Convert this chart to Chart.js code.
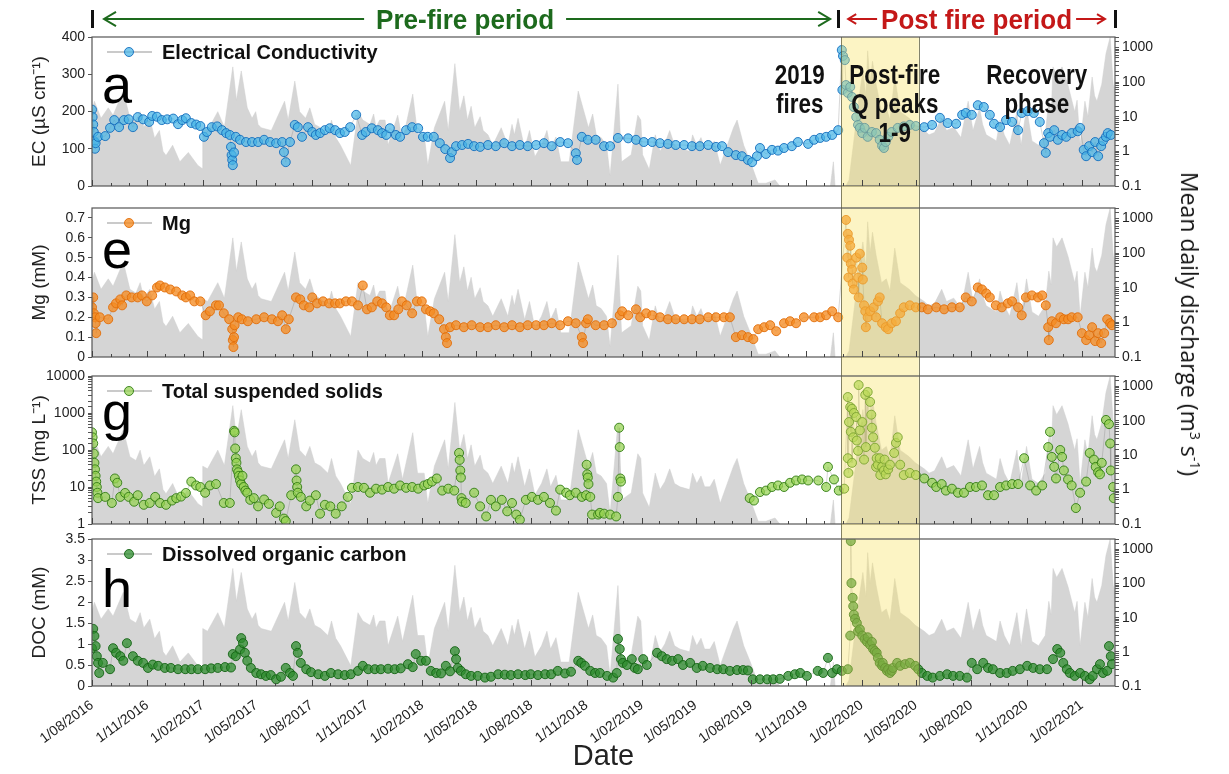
<!DOCTYPE html>
<html>
<head>
<meta charset="utf-8">
<script src="https://cdn.jsdelivr.net/npm/chart.js@4.4.1/dist/chart.umd.min.js"></script>
<style>
  body { margin: 0; background: #fff; width: 1229px; height: 774px; overflow: hidden; position: relative; font-family: 'Liberation Sans', Arial, sans-serif; }
  canvas { position: absolute; left: 0; }
  #qTitle { position: absolute; left: 1190px; top: 324px; transform: translate(-50%, -50%) rotate(90deg); white-space: nowrap;
            font-family: 'Open Sans', 'Noto Sans', sans-serif; font-size: 23px; color: #111; z-index: 5; }
  #qTitle sup { font-size: 14px; }
</style>
</head>
<body>
<canvas id="cA" width="1229" height="200" style="top:0px"></canvas>
<canvas id="cE" width="1229" height="185" style="top:186px"></canvas>
<canvas id="cG" width="1229" height="181" style="top:357px"></canvas>
<canvas id="cH" width="1229" height="250" style="top:524px"></canvas>
<div id="qTitle">Mean daily discharge (m<sup>3</sup> s<sup>-1</sup>)</div>
<script>
// x values are days since 1/08/2016
const tickLabels = ['1/08/2016','1/11/2016','1/02/2017','1/05/2017','1/08/2017','1/11/2017','1/02/2018','1/05/2018','1/08/2018','1/11/2018','1/02/2019','1/05/2019','1/08/2019','1/11/2019','1/02/2020','1/05/2020','1/08/2020','1/11/2020','1/02/2021'];
const lastDay = 1700;        // ~28/03/2021
const fireDay = 1240;        // end of pre-fire period
const bandStart = 1245, bandEnd = 1374;   // post-fire Q peaks window

// mean daily discharge (m3/s)
const discharge = [[0,15],[4,28],[15,9],[27,18],[35,11],[52,55],[63,9],[73,7],[80,14],[86,5],[96,9],[104,2.4],[112,4],[118,1],[123,0.76],[134,1.5],[146,0.5],[160,0.93],[176,0.39],[183,0.32],[184,4.8],[192,4],[209,14],[220,5],[234,275],[240,30],[248,210],[258,18],[266,9],[272,14],[276,6],[281,4.8],[298,4],[320,28],[326,8],[337,107],[345,14],[355,9],[362,18],[370,6],[380,4.8],[392,3],[398,8],[405,2.5],[413,1.5],[430,0.39],[442,14],[450,8],[462,6],[468,12],[472,5],[478,8],[487,8],[492,1.5],[508,11],[516,2],[533,45],[541,3],[552,3],[558,0.39],[569,4.8],[586,28],[592,4],[603,340],[611,14],[618,40],[624,8],[630,20],[636,4.8],[645,10],[650,4],[658,3],[666,1.5],[680,4.8],[691,1.5],[698,6],[702,3],[708,9],[719,1.2],[727,4],[736,0.7],[747,1.5],[756,4],[762,1.2],[771,2.6],[779,0.5],[793,0.5],[808,55],[825,4.8],[832,12],[838,3],[846,2.5],[855,1.5],[861,0.2],[874,87],[880,0.5],[896,0.8],[907,11],[912,8],[915,0.8],[926,0.3],[936,3],[944,1],[952,1.7],[960,4],[968,1.5],[977,1.2],[993,1],[998,3],[1005,1.5],[1012,2.5],[1018,1.2],[1027,1.2],[1034,2],[1044,0.4],[1066,4.8],[1072,8],[1083,1.5],[1094,0.5],[1107,0.12],[1120,0.12],[1135,0.15],[1145,0.09],[1160,0.05],[1225,0.05],[1232,0.5],[1236,0.05],[1250,0.08],[1258,0.15],[1266,2],[1274,30],[1281,210],[1286,40],[1289,800],[1293,100],[1297,400],[1303,87],[1312,14],[1320,18],[1326,8],[1334,140],[1343,14],[1358,9],[1368,6],[1383,4],[1391,3],[1400,3.5],[1412,9],[1420,4],[1432,5],[1444,2.5],[1456,28],[1464,4],[1475,18],[1480,6],[1486,3],[1503,2],[1509,8],[1516,3],[1525,1.5],[1537,14],[1544,1.5],[1553,18],[1562,2],[1573,1.5],[1584,3],[1590,30],[1594,12],[1597,275],[1603,150],[1612,275],[1622,80],[1633,14],[1637,30],[1642,1.5],[1650,28],[1655,10],[1662,140],[1666,40],[1670,28],[1678,87],[1685,660],[1692,2000],[1697,87],[1700,60]];

// electrical conductivity (uS/cm)
const ecSamples = [[0,205],[1,185],[2,165],[3,145],[4,120],[5,100],[6,115],[10,132],[22,134],[30,156],[37,177],[45,158],[53,177],[61,179],[68,158],[76,185],[85,179],[95,172],[100,188],[108,186],[116,177],[125,179],[135,181],[143,166],[150,177],[156,182],[165,169],[173,165],[180,161],[186,132],[191,145],[199,158],[208,160],[216,150],[223,142],[229,137],[231,105],[232,83],[233,70],[234,56],[236,90],[239,132],[246,124],[256,118],[266,118],[276,118],[286,124],[296,118],[306,115],[316,118],[319,91],[322,64],[329,118],[337,164],[342,158],[349,132],[359,158],[366,145],[372,137],[379,142],[387,150],[395,155],[404,150],[412,142],[420,145],[429,158],[439,191],[449,137],[455,145],[465,155],[475,150],[482,142],[489,137],[495,155],[505,137],[512,132],[522,150],[532,158],[542,155],[550,132],[558,132],[568,132],[578,115],[587,99],[595,75],[598,91],[605,107],[615,110],[625,113],[635,107],[645,105],[658,110],[671,107],[685,115],[698,107],[711,110],[724,107],[738,110],[751,115],[764,107],[778,118],[791,115],[804,88],[806,70],[814,132],[824,124],[837,124],[851,107],[861,107],[874,129],[891,128],[904,124],[917,118],[931,118],[944,115],[957,113],[970,110],[984,110],[997,107],[1010,107],[1024,110],[1037,105],[1047,107],[1057,91],[1070,83],[1080,80],[1090,70],[1097,64],[1105,80],[1110,102],[1120,86],[1130,97],[1140,95],[1150,102],[1163,107],[1173,118],[1190,113],[1200,124],[1210,129],[1220,132],[1230,137],[1240,150],[1246,365],[1247,258],[1248,349],[1251,338],[1253,271],[1256,250],[1260,266],[1263,239],[1266,212],[1270,185],[1273,164],[1276,156],[1280,142],[1284,156],[1289,132],[1296,145],[1303,142],[1309,124],[1313,108],[1316,102],[1319,118],[1323,132],[1329,145],[1339,156],[1349,160],[1359,164],[1369,161],[1383,158],[1396,164],[1409,183],[1422,169],[1436,167],[1446,191],[1452,196],[1462,191],[1472,217],[1482,212],[1492,191],[1499,167],[1509,158],[1519,177],[1529,172],[1539,150],[1545,196],[1555,201],[1565,196],[1575,172],[1582,115],[1585,89],[1589,142],[1592,132],[1599,150],[1605,124],[1612,137],[1619,132],[1628,142],[1638,147],[1642,156],[1648,97],[1652,80],[1657,107],[1662,91],[1667,118],[1672,80],[1677,107],[1680,121],[1685,132],[1688,142],[1693,137]];

// Mg (mM)
const mgSamples = [[0,0.25],[2,0.30],[3,0.22],[5,0.20],[6,0.17],[7,0.12],[13,0.20],[27,0.19],[35,0.25],[40,0.27],[47,0.29],[50,0.26],[57,0.31],[66,0.30],[76,0.30],[83,0.31],[91,0.28],[100,0.31],[108,0.35],[113,0.36],[121,0.35],[130,0.34],[140,0.33],[150,0.31],[156,0.30],[163,0.31],[170,0.28],[180,0.28],[189,0.21],[196,0.23],[206,0.26],[211,0.26],[219,0.22],[228,0.19],[233,0.14],[234,0.085],[235,0.05],[236,0.10],[237,0.16],[243,0.20],[249,0.19],[259,0.18],[273,0.19],[286,0.20],[299,0.19],[309,0.18],[316,0.21],[322,0.14],[327,0.19],[339,0.30],[346,0.29],[352,0.26],[361,0.25],[366,0.30],[374,0.27],[384,0.28],[394,0.27],[404,0.27],[412,0.27],[422,0.28],[432,0.28],[442,0.26],[450,0.36],[457,0.24],[465,0.25],[474,0.28],[482,0.27],[489,0.25],[495,0.21],[502,0.21],[509,0.24],[515,0.28],[523,0.26],[532,0.22],[540,0.28],[548,0.28],[555,0.24],[562,0.23],[568,0.22],[577,0.19],[585,0.14],[588,0.10],[590,0.07],[595,0.15],[605,0.16],[618,0.15],[631,0.16],[645,0.15],[658,0.15],[671,0.16],[685,0.15],[698,0.16],[711,0.15],[724,0.16],[738,0.16],[751,0.16],[764,0.17],[778,0.16],[791,0.18],[804,0.17],[814,0.10],[816,0.07],[821,0.17],[824,0.19],[837,0.16],[851,0.16],[864,0.17],[877,0.21],[881,0.23],[891,0.21],[904,0.24],[911,0.20],[921,0.22],[931,0.21],[944,0.20],[957,0.19],[970,0.19],[984,0.19],[997,0.19],[1010,0.19],[1024,0.20],[1037,0.20],[1050,0.20],[1060,0.20],[1070,0.10],[1080,0.11],[1090,0.10],[1099,0.09],[1107,0.14],[1117,0.15],[1127,0.16],[1137,0.13],[1150,0.17],[1160,0.18],[1170,0.17],[1183,0.20],[1200,0.20],[1210,0.20],[1220,0.21],[1230,0.23],[1240,0.20],[1253,0.69],[1255,0.50],[1256,0.62],[1257,0.40],[1258,0.59],[1260,0.56],[1261,0.47],[1263,0.44],[1264,0.37],[1266,0.34],[1270,0.50],[1273,0.40],[1274,0.30],[1276,0.52],[1280,0.45],[1281,0.39],[1283,0.26],[1285,0.23],[1286,0.15],[1289,0.20],[1293,0.23],[1299,0.25],[1303,0.20],[1306,0.28],[1309,0.30],[1313,0.17],[1319,0.15],[1323,0.14],[1329,0.17],[1336,0.18],[1343,0.22],[1349,0.25],[1359,0.26],[1369,0.25],[1379,0.25],[1389,0.24],[1403,0.25],[1416,0.24],[1429,0.25],[1442,0.25],[1452,0.30],[1462,0.28],[1472,0.35],[1479,0.34],[1486,0.32],[1492,0.30],[1502,0.26],[1512,0.25],[1522,0.27],[1529,0.28],[1539,0.25],[1545,0.21],[1552,0.30],[1562,0.31],[1572,0.30],[1579,0.31],[1585,0.26],[1589,0.15],[1590,0.085],[1595,0.18],[1602,0.17],[1609,0.20],[1615,0.19],[1622,0.19],[1628,0.20],[1638,0.20],[1645,0.12],[1652,0.085],[1657,0.11],[1662,0.15],[1667,0.08],[1672,0.12],[1677,0.07],[1682,0.12],[1687,0.19],[1692,0.17],[1695,0.16]];

// total suspended solids (mg/L)
const tssSamples = [[0,300],[1,220],[2,150],[3,80],[4,45],[5,30],[6,20],[7,14],[8,10],[9,7],[10,5],[22,5.4],[33,3.7],[38,17],[42,13],[47,5.4],[55,6.9],[61,5.4],[70,4],[76,6],[86,3.3],[96,3.7],[105,5.4],[113,3.7],[123,3.3],[133,4.3],[140,5],[148,5.5],[156,6.9],[165,14],[173,11],[180,10],[188,7],[196,11],[206,12],[219,3.7],[229,3.7],[236,330],[237,300],[238,110],[239,60],[240,45],[241,30],[243,25],[244,20],[246,15],[248,12],[250,20],[252,10],[255,8],[258,7],[263,4.5],[269,5],[276,3],[286,4.6],[294,3.5],[306,2],[312,3],[319,1.4],[322,1.2],[331,6],[339,30],[340,15],[341,10],[342,7],[347,5.4],[356,3],[362,4.3],[372,6],[379,1.9],[387,3.3],[396,3],[405,1.9],[415,3],[425,5.4],[432,9.5],[442,10],[452,9.5],[462,7],[472,9],[482,8.5],[492,10],[502,9],[512,11],[522,9.5],[532,10],[542,9],[552,11],[558,12],[565,14],[573,17],[582,8],[592,9],[602,8],[610,83],[611,54],[612,28],[613,18],[614,5],[615,4],[621,3.7],[635,7],[645,3],[655,1.6],[663,4.5],[671,3],[681,4.5],[690,2.2],[698,3.7],[705,1.8],[711,1.3],[721,4.5],[731,5.4],[741,4.5],[751,5.4],[761,3.7],[771,2.3],[778,8.5],[788,7],[794,6],[804,7],[814,5.4],[821,6],[822,40],[823,22],[824,18],[825,12],[828,5.4],[831,1.8],[841,1.8],[844,2],[851,1.9],[861,1.8],[871,1.6],[874,5.4],[876,400],[877,120],[878,17],[879,14],[1093,5],[1100,4.3],[1110,7.3],[1120,8],[1130,10],[1140,11],[1150,10],[1160,13],[1170,15],[1180,16],[1190,15],[1207,15],[1220,10],[1223,35],[1233,16],[1241,8],[1250,9],[1256,2700],[1256,60],[1257,24],[1258,570],[1260,1450],[1261,310],[1263,1300],[1263,45],[1265,220],[1266,1000],[1270,780],[1271,180],[1273,95],[1274,5700],[1276,340],[1280,570],[1283,55],[1285,3100],[1286,120],[1289,3700],[1293,2000],[1295,900],[1296,400],[1298,220],[1301,115],[1303,35],[1304,60],[1306,40],[1309,60],[1310,21],[1313,35],[1316,28],[1317,55],[1319,22],[1323,30],[1326,40],[1333,83],[1336,155],[1339,220],[1343,40],[1349,21],[1359,24],[1369,21],[1383,17],[1396,13],[1403,10],[1412,12],[1419,8],[1429,9],[1439,7],[1449,7],[1459,10],[1469,10],[1479,11],[1489,6],[1499,6],[1509,10],[1519,11],[1529,12],[1539,12],[1549,60],[1559,11],[1569,8],[1579,11],[1589,120],[1592,310],[1595,65],[1599,35],[1602,17],[1609,100],[1612,65],[1615,28],[1622,16],[1628,11],[1635,2.7],[1642,7],[1652,14],[1658,83],[1665,55],[1668,35],[1672,25],[1675,22],[1678,45],[1685,650],[1690,500],[1692,150],[1693,28],[1697,10],[1698,5]];

// dissolved organic carbon (mM)
const docSamples = [[0,0.9],[2,1.36],[4,1.19],[6,0.95],[8,0.71],[10,0.55],[12,0.31],[18,0.55],[30,0.40],[35,0.90],[40,0.79],[47,0.71],[52,0.60],[58,1.02],[68,0.71],[76,0.60],[85,0.55],[93,0.43],[101,0.51],[110,0.48],[121,0.43],[131,0.43],[143,0.40],[155,0.40],[165,0.40],[176,0.40],[188,0.40],[198,0.42],[209,0.43],[221,0.45],[231,0.44],[234,0.76],[239,0.71],[246,0.87],[248,1.14],[251,1.02],[254,0.79],[258,0.60],[264,0.43],[273,0.31],[281,0.28],[289,0.24],[297,0.26],[306,0.16],[314,0.22],[322,0.43],[329,0.31],[334,0.24],[339,0.95],[342,0.79],[347,0.55],[356,0.40],[364,0.33],[376,0.28],[387,0.24],[397,0.31],[409,0.28],[420,0.26],[430,0.28],[442,0.36],[450,0.48],[459,0.40],[470,0.40],[480,0.40],[492,0.41],[503,0.40],[513,0.42],[525,0.52],[533,0.45],[538,0.76],[547,0.60],[555,0.60],[563,0.36],[572,0.31],[580,0.30],[588,0.48],[595,0.35],[603,0.83],[605,0.64],[608,0.43],[613,0.36],[621,0.28],[630,0.24],[641,0.24],[653,0.20],[663,0.22],[675,0.28],[686,0.27],[696,0.26],[708,0.28],[720,0.26],[729,0.28],[741,0.26],[753,0.28],[763,0.28],[774,0.36],[786,0.30],[796,0.34],[808,0.60],[813,0.55],[819,0.48],[828,0.36],[836,0.31],[844,0.31],[856,0.24],[866,0.20],[872,0.31],[874,1.12],[877,0.88],[879,0.64],[882,0.55],[889,0.50],[897,0.64],[902,0.43],[907,0.40],[916,0.64],[922,0.50],[939,0.79],[947,0.71],[955,0.64],[964,0.60],[974,0.64],[982,0.50],[994,0.55],[1005,0.43],[1015,0.48],[1027,0.43],[1039,0.40],[1049,0.40],[1060,0.36],[1072,0.38],[1082,0.38],[1090,0.37],[1098,0.16],[1110,0.16],[1122,0.16],[1132,0.16],[1143,0.17],[1157,0.24],[1168,0.28],[1177,0.31],[1188,0.24],[1206,0.36],[1215,0.31],[1223,0.67],[1230,0.31],[1238,0.40],[1246,0.36],[1256,0.40],[1260,1.2],[1261,3.45],[1262,2.45],[1264,2.1],[1265,1.9],[1266,1.7],[1268,1.6],[1271,1.5],[1273,1.3],[1276,1.35],[1280,1.2],[1284,1.12],[1288,1.05],[1289,1.16],[1293,0.98],[1296,1.05],[1298,0.88],[1301,0.83],[1304,0.79],[1306,0.67],[1309,0.55],[1313,0.48],[1314,0.55],[1318,0.43],[1321,0.36],[1323,0.40],[1326,0.31],[1329,0.36],[1331,0.43],[1338,0.55],[1343,0.48],[1351,0.52],[1359,0.55],[1368,0.48],[1373,0.40],[1379,0.31],[1388,0.24],[1397,0.20],[1409,0.24],[1421,0.28],[1431,0.24],[1442,0.24],[1454,0.20],[1462,0.55],[1471,0.40],[1481,0.55],[1489,0.43],[1497,0.40],[1509,0.31],[1520,0.31],[1530,0.36],[1542,0.40],[1554,0.48],[1564,0.43],[1575,0.40],[1587,0.40],[1597,0.64],[1604,0.88],[1609,0.79],[1614,0.55],[1620,0.40],[1625,0.31],[1633,0.24],[1642,0.31],[1650,0.24],[1658,0.16],[1663,0.24],[1670,0.40],[1675,0.52],[1680,0.31],[1687,0.36],[1690,0.95],[1693,0.71],[1695,0.52]];

const day0 = Date.UTC(2016, 7, 1);
function labelToDay(s) {
  const [d, m, y] = s.split('/').map(Number);
  return Math.round((Date.UTC(y, m - 1, d) - day0) / 86400000);
}
const tickDays = tickLabels.map(labelToDay);
const monthDays = [];
for (let m = 0; ; m++) {
  const d = Math.round((Date.UTC(2016, 7 + m, 1) - day0) / 86400000);
  if (d > lastDay) break;
  monthDays.push(d);
}

const ink = '#222';
const frame = '#555';

const decor = {
  id: 'panelDecor',
  afterDatasetsDraw(chart, args, o) {
    const ctx = chart.ctx, a = chart.chartArea, xs = chart.scales.x;
    const x1 = xs.getPixelForValue(bandStart), x2 = xs.getPixelForValue(bandEnd);
    const yTop = o.bandFromTop ? 0 : a.top;
    ctx.save();
    ctx.fillStyle = 'rgba(247,226,100,0.38)';
    ctx.fillRect(x1, yTop, x2 - x1, a.bottom - yTop);
    ctx.strokeStyle = 'rgba(90,90,60,0.75)';
    ctx.lineWidth = 1;
    ctx.beginPath();
    ctx.moveTo(Math.round(x1) + 0.5, yTop); ctx.lineTo(Math.round(x1) + 0.5, a.bottom);
    ctx.moveTo(Math.round(x2) + 0.5, yTop); ctx.lineTo(Math.round(x2) + 0.5, a.bottom);
    ctx.stroke();
    ctx.restore();
  },
  afterDraw(chart, args, o) {
    const ctx = chart.ctx, a = chart.chartArea, xs = chart.scales.x;
    ctx.save();
    // frame
    ctx.strokeStyle = frame; ctx.lineWidth = 1.2;
    ctx.strokeRect(a.left, a.top, a.right - a.left, a.bottom - a.top);
    // inward month ticks
    ctx.lineWidth = 1; ctx.strokeStyle = '#444';
    ctx.beginPath();
    monthDays.forEach(d => {
      const x = Math.round(xs.getPixelForValue(d)) + 0.5;
      const len = tickDays.includes(d) ? 6 : 3;
      ctx.moveTo(x, a.bottom); ctx.lineTo(x, a.bottom - len);
    });
    ctx.stroke();
    // legend
    const ly = a.top + 15;
    ctx.strokeStyle = '#b8b8b8'; ctx.lineWidth = 1.5;
    ctx.beginPath(); ctx.moveTo(a.left + 15, ly); ctx.lineTo(a.left + 60, ly); ctx.stroke();
    const ds = chart.data.datasets[0];
    ctx.fillStyle = ds.pointBackgroundColor; ctx.strokeStyle = ds.pointBorderColor; ctx.lineWidth = 1;
    ctx.beginPath(); ctx.arc(a.left + 37, ly, 4.5, 0, Math.PI * 2); ctx.fill(); ctx.stroke();
    ctx.fillStyle = '#111'; ctx.font = 'bold 20px "Liberation Sans", Arial, sans-serif';
    ctx.textBaseline = 'middle'; ctx.textAlign = 'left';
    ctx.fillText(ds.label, a.left + 70, ly + 1);
    // panel letter
    ctx.font = '54px "Liberation Sans", Arial, sans-serif';
    ctx.textBaseline = 'alphabetic';
    ctx.fillStyle = '#000';
    ctx.fillText(o.letter, a.left + 10, a.top + o.letterBase);

    if (o.header) drawHeader(chart, ctx, a, xs);
    ctx.restore();
  }
};

function narrowText(ctx, text, x, y, scaleX) {
  ctx.save(); ctx.translate(x, y); ctx.scale(scaleX, 1); ctx.fillText(text, 0, 0); ctx.restore();
}

function arrow(ctx, from, to, y, color, head) {
  ctx.strokeStyle = color; ctx.lineWidth = 2;
  ctx.beginPath(); ctx.moveTo(from, y); ctx.lineTo(to, y); ctx.stroke();
  const dir = to > from ? 1 : -1;
  ctx.beginPath();
  ctx.moveTo(to - dir * head, y - head * 0.6); ctx.lineTo(to, y); ctx.lineTo(to - dir * head, y + head * 0.6);
  ctx.stroke();
}

function drawHeader(chart, ctx, a, xs) {
  const xStart = xs.getPixelForValue(0), xFire = xs.getPixelForValue(fireDay), xEnd = xs.getPixelForValue(lastDay);
  // period markers
  ctx.fillStyle = '#111';
  [xStart, xFire, xEnd].forEach(x => ctx.fillRect(Math.round(x) - 1, 10, 3, 18));
  ctx.textAlign = 'center'; ctx.textBaseline = 'alphabetic';
  ctx.font = 'bold 28px "Liberation Sans", Arial, sans-serif';
  // pre-fire
  const green = '#1d6a1d';
  ctx.fillStyle = green;
  const preMid = (xStart + xFire) / 2;
  const preW = ctx.measureText('Pre-fire period').width * 0.93;
  narrowText(ctx, 'Pre-fire period', preMid, 29, 0.93);
  arrow(ctx, preMid - preW / 2 - 12, xStart + 12, 19, green, 12);
  arrow(ctx, preMid + preW / 2 + 12, xFire - 8, 19, green, 12);
  // post fire
  const red = '#c41818';
  ctx.fillStyle = red;
  const postMid = (xFire + xEnd) / 2;
  const postW = ctx.measureText('Post fire period').width * 0.93;
  narrowText(ctx, 'Post fire period', postMid, 29, 0.93);
  arrow(ctx, postMid - postW / 2 - 4, xFire + 10, 19, red, 8);
  arrow(ctx, postMid + postW / 2 + 4, xEnd - 10, 19, red, 8);
  // phase annotations
  ctx.fillStyle = '#111';
  ctx.font = 'bold 28px "Liberation Sans", Arial, sans-serif';
  const notes = [[1176, ['2019', 'fires']], [1334, ['Post-fire', 'Q peaks', '1-9']], [1570, ['Recovery', 'phase']]];
  notes.forEach(([d, lines]) => {
    const x = xs.getPixelForValue(d);
    lines.forEach((t, i) => narrowText(ctx, t, x, a.top + 47 + i * 29, 0.8));
  });
}

Chart.register(decor);

function yTickFmt(v) { return String(+v.toFixed(2)); }
function logFmt(v) {
  const l = Math.log10(v);
  return Math.abs(l - Math.round(l)) < 1e-6 ? String(v) : '';
}

function makePanel(id, cfg) {
  const bottom = cfg.bottom === true;
  return new Chart(document.getElementById(id), {
    type: 'line',
    data: {
      datasets: [
        {
          label: cfg.label,
          data: cfg.samples.map(([x, y]) => ({ x, y })),
          yAxisID: 'y', order: 0, showLine: true,
          borderColor: 'rgba(110,110,110,0.4)', borderWidth: 0.7,
          // no connecting line across long sampling gaps
          segment: { borderColor: c => (c.p1.parsed.x - c.p0.parsed.x > 60 ? 'rgba(0,0,0,0)' : undefined) },
          pointRadius: 4.5, pointBorderWidth: 1,
          pointBackgroundColor: cfg.fill, pointBorderColor: cfg.edge
        },
        {
          label: 'Discharge',
          data: discharge.map(([x, y]) => ({ x, y })),
          yAxisID: 'q', order: 1, fill: 'start',
          backgroundColor: '#d5d5d5', borderColor: '#cfcfcf', borderWidth: 0.5, pointRadius: 0
        }
      ]
    },
    options: {
      responsive: false, animation: false, events: [],
      layout: { padding: { top: cfg.padTop, bottom: bottom ? 0 : cfg.padBottom, left: 0, right: 0 } },
      plugins: {
        legend: { display: false }, tooltip: { enabled: false },
        panelDecor: { letter: cfg.letter, letterBase: cfg.letterBase, bandFromTop: cfg.bandFromTop, header: cfg.header }
      },
      scales: {
        x: {
          type: 'linear', min: 0, max: lastDay, display: bottom,
          grid: { display: false }, border: { display: false },
          afterBuildTicks: s => { s.ticks = tickDays.map(v => ({ value: v })); },
          afterFit: s => { s.height = bottom ? 88 : 0; },
          ticks: {
            autoSkip: false, minRotation: 36, maxRotation: 36, padding: 3, color: ink,
            font: { size: 14, family: '"Liberation Sans", Arial, sans-serif' },
            callback: v => tickLabels[tickDays.indexOf(v)] || ''
          },
          title: { display: true, text: 'Date', color: ink, padding: { top: 1, bottom: 0 },
                   font: { size: 29, family: '"Liberation Sans", Arial, sans-serif' } }
        },
        y: {
          type: cfg.yType, position: 'left', min: cfg.yMin, max: cfg.yMax,
          afterFit: s => { s.width = 92; },
          grid: { drawOnChartArea: false, tickLength: 4, color: frame },
          border: { display: false },
          ticks: {
            stepSize: cfg.yStep, includeBounds: false, autoSkip: false, padding: 3, color: ink,
            font: { size: 14, family: '"Liberation Sans", Arial, sans-serif' },
            callback: cfg.yType === 'logarithmic' ? logFmt : yTickFmt
          },
          title: { display: true, text: cfg.yTitle, color: ink, padding: { top: 28, bottom: 0 },
                   font: { size: 19, family: '"Liberation Sans", Arial, sans-serif' } }
        },
        q: {
          type: 'logarithmic', position: 'right', min: 0.1, max: 2000,
          afterFit: s => { s.width = 114; },
          grid: { drawOnChartArea: false, tickLength: 4, color: frame },
          border: { display: false },
          ticks: {
            autoSkip: false, padding: 3, color: ink,
            font: { size: 14, family: '"Liberation Sans", Arial, sans-serif' },
            callback: logFmt
          }
        }
      }
    }
  });
}

makePanel('cA', { label: 'Electrical Conductivity', samples: ecSamples, fill: 'rgba(72,182,232,0.72)', edge: 'rgba(20,110,190,0.9)',
  yType: 'linear', yMin: 0, yMax: 400, yStep: 100, yTitle: 'EC (µS cm⁻¹)', letter: 'a', letterBase: 66,
  padTop: 37, padBottom: 14, bandFromTop: false, header: true });
makePanel('cE', { label: 'Mg', samples: mgSamples, fill: 'rgba(245,140,35,0.78)', edge: 'rgba(225,110,10,0.9)',
  yType: 'linear', yMin: 0, yMax: 0.75, yStep: 0.1, yTitle: 'Mg (mM)', letter: 'e', letterBase: 60,
  padTop: 22, padBottom: 14, bandFromTop: true, header: false });
makePanel('cG', { label: 'Total suspended solids', samples: tssSamples, fill: 'rgba(150,210,80,0.72)', edge: 'rgba(50,125,20,0.9)',
  yType: 'logarithmic', yMin: 1, yMax: 10000, yTitle: 'TSS (mg L⁻¹)', letter: 'g', letterBase: 54,
  padTop: 19, padBottom: 14, bandFromTop: true, header: false });
makePanel('cH', { label: 'Dissolved organic carbon', samples: docSamples, fill: 'rgba(45,140,45,0.75)', edge: 'rgba(20,100,20,0.9)',
  yType: 'linear', yMin: 0, yMax: 3.5, yStep: 0.5, yTitle: 'DOC (mM)', letter: 'h', letterBase: 68,
  padTop: 15, bandFromTop: true, header: false, bottom: true });
</script>
</body>
</html>
